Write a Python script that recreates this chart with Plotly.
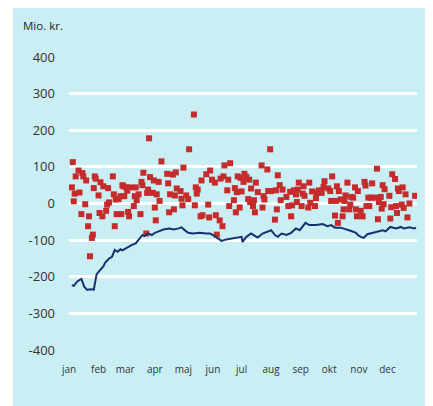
import pandas as pd
import plotly.graph_objects as go

YEAR_START = "2019-01-01"

# Daily observations (day of year, 0 = 1 January) and values (Mio. kr.)
point_days = [3, 4, 5, 6, 7, 10, 11, 13, 14, 15, 17, 18, 20, 21, 22, 24, 25, 26, 27, 28,
              31, 32, 33, 35, 36, 39, 40, 41, 42, 46, 47, 48, 49, 50, 52, 54, 55, 56, 57, 58,
              60, 61, 62, 63, 64, 68, 69, 70, 71, 73, 75, 76, 77, 78, 81, 82, 83, 84, 85, 88,
              89, 90, 91, 92, 94, 95, 97, 103, 104, 105, 106, 109, 110, 111, 112, 113, 117, 118, 119, 120,
              123, 125, 126, 131, 132, 133, 134, 135, 138, 139, 140, 144, 146, 147, 148, 150, 153, 154, 155, 158,
              159, 161, 162, 163, 166, 167, 168, 169, 173, 174, 175, 176, 177, 179, 180, 181, 183, 184, 186, 188,
              189, 190, 191, 193, 194, 195, 196, 198, 202, 203, 204, 205, 208, 209, 211, 212, 216, 217, 218, 219,
              221, 222, 224, 228, 230, 232, 233, 234, 236, 238, 239, 240, 241, 244, 245, 246, 247, 251, 252, 253,
              255, 258, 259, 260, 262, 265, 267, 268, 272, 274, 275, 276, 279, 280, 281, 282, 283, 285, 287, 288,
              289, 290, 292, 294, 295, 296, 298, 300, 301, 302, 303, 306, 308, 310, 311, 312, 314, 315, 317, 318,
              321, 323, 324, 325, 327, 328, 329, 330, 331, 336, 337, 338, 339, 342, 343, 344, 345, 346, 349, 350,
              351, 353, 355, 357, 363]
point_values = [44, 113, 6, 27, 74, 90, 30, -29, 83, 74, -2, 63, -62, -35, -144, -94, -85, 42, 74, 68,
                22, -26, 58, -35, 47, -20, -3, 42, 3, 74, 25, -62, 11, -29, 12, 20, -29, 50, 47, 20,
                44, 35, -23, -35, 44, -7, 20, 44, 9, 25, -29, 59, 50, 84, -82, 29, 38, 178, 72, 29,
                63, -11, -46, 25, 59, 7, 115, 81, 55, -24, 25, 79, -16, 22, 85, 41, 34, 13, -5, 98,
                22, 12, 148, 243, -5, 44, 27, 38, -35, 63, -32, 80, -3, -38, 90, 65, 57, -32, -85, -46,
                68, -62, 74, 104, 36, 65, -7, 110, 9, 42, -24, 31, 74, -11, 70, 33, 59, 81, 73, 12,
                65, 4, 41, -7, 9, -24, 57, 31, 104, -11, 20, 11, 93, 34, 148, 34, -44, 36, -16, 77,
                50, 9, 38, 18, -7, 32, -35, -5, 36, 25, 4, 38, 57, -7, 27, 47, 21, -11, 57, 2,
                33, -7, 15, 29, 36, 29, 45, 61, 41, 34, 7, 74, -33, 7, 47, -53, 34, 11, -35, -16,
                7, 22, 57, -16, -3, 18, 16, 44, -16, -35, 34, -20, -35, 59, 49, -7, 16, -7, 16, 55,
                16, 95, -43, 4, 18, -14, 50, -2, 39, 21, -41, -10, 80, 67, -7, -26, 41, 34, -3, 44,
                -12, 25, -38, 0, 21]

# Cumulative balance line (day of year, Mio. kr.)
line_days = [3, 5, 9, 13, 16, 19, 22, 26, 29, 32, 36, 38, 42, 45, 48, 51, 54, 56, 59, 63,
             66, 70, 73, 75, 77, 79, 83, 87, 90, 94, 99, 105, 110, 115, 118, 121, 125, 130, 137, 144,
             148, 151, 157, 160, 165, 172, 178, 181, 182, 186, 191, 195, 198, 203, 209, 212, 216, 219, 223, 228,
             233, 238, 242, 248, 252, 259, 266, 271, 275, 279, 285, 291, 296, 301, 303, 306, 309, 313, 318, 323,
             329, 332, 337, 343, 348, 351, 357, 362, 364]
line_values = [-223, -225, -212, -206, -227, -236, -234, -235, -193, -184, -172, -161, -150, -146, -127, -132, -125, -128, -123, -116,
               -113, -109, -100, -91, -86, -89, -82, -86, -80, -76, -71, -68, -71, -68, -65, -72, -80, -82, -80, -82,
               -82, -86, -97, -102, -98, -95, -91, -91, -105, -91, -82, -88, -93, -82, -77, -73, -86, -91, -82, -86,
               -80, -68, -73, -53, -59, -59, -56, -62, -59, -66, -66, -70, -75, -80, -86, -91, -94, -84, -80, -77,
               -73, -76, -64, -68, -64, -68, -65, -68, -66]

month_labels = ["jan", "feb", "mar", "apr", "maj", "jun", "jul", "aug", "sep", "okt", "nov", "dec"]
y_ticks = [-400, -300, -200, -100, 0, 100, 200, 300, 400]
y_ticktext = ["-400", "-300", "-200", "-100", "0", "100", "200", "300", "400"]
y_label = "Mio. kr."

start = pd.Timestamp(YEAR_START)
point_dates = [start + pd.Timedelta(days=d) for d in point_days]
line_dates = [start + pd.Timedelta(days=d) for d in line_days]
month_starts = pd.date_range(YEAR_START, periods=12, freq="MS")

BG = "#c9eff4"
RED = "#c62b2b"
NAVY = "#17306e"

fig = go.Figure()
fig.add_trace(go.Scatter(x=point_dates, y=point_values, mode="markers",
                         marker=dict(symbol="square", size=6, color=RED, line=dict(width=0)),
                         showlegend=False))
fig.add_trace(go.Scatter(x=line_dates, y=line_values, mode="lines",
                         line=dict(color=NAVY, width=2), showlegend=False))

fig.add_shape(type="rect", xref="paper", yref="paper",
              x0=-0.161, x1=1.3, y0=-0.4, y1=1.3,
              fillcolor=BG, line=dict(width=0), layer="below")

fig.add_annotation(text=y_label, xref="paper", yref="paper", x=-0.137, y=1.108,
                   xanchor="left", yanchor="middle", showarrow=False,
                   font=dict(size=11.5, color="#222222", family="Open Sans"))

fig.update_layout(
    width=433, height=406,
    margin=dict(l=61, r=24, t=49, b=64),
    paper_bgcolor="white", plot_bgcolor="rgba(0,0,0,0)",
    font=dict(family="Open Sans", color="#333333"),
    xaxis=dict(range=[start, start + pd.Timedelta(days=365)],
               tickvals=list(month_starts), ticktext=month_labels,
               showgrid=False, zeroline=False, showline=False,
               ticks="", tickfont=dict(size=10, color="#333333"),
               ticklabelstandoff=12),
    yaxis=dict(range=[-400, 400], tickvals=y_ticks, ticktext=y_ticktext,
               showgrid=True, gridcolor="white", gridwidth=2.5,
               zeroline=False, showline=False, ticks="",
               tickfont=dict(size=13, color="#333333"),
               ticklabelstandoff=13),
)

fig.write_html("out.html")
